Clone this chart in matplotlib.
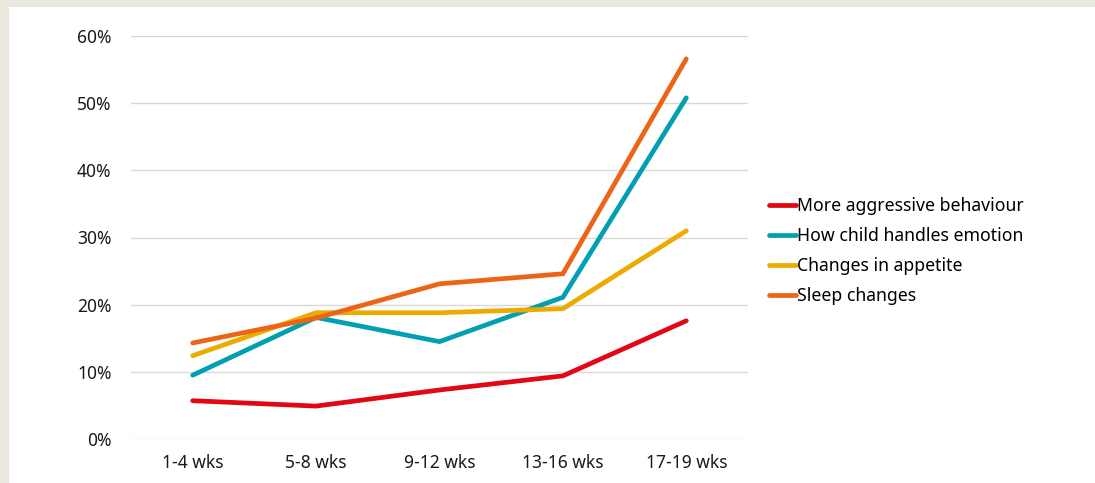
"""
Line chart: share of children with behaviour changes by weeks.
"""
import matplotlib.pyplot as plt
import matplotlib.patches as mpatches
import matplotlib.ticker as mticker
import numpy as np

categories = ["1-4 wks", "5-8 wks", "9-12 wks", "13-16 wks", "17-19 wks"]

aggressive = [5.7, 4.9, 7.3, 9.4, 17.6]
emotion    = [9.5, 18.1, 14.5, 21.1, 50.8]
appetite   = [12.4, 18.8, 18.8, 19.4, 31.0]
sleep      = [14.3, 18.0, 23.1, 24.6, 56.6]

SERIES = [
    ("More aggressive behaviour", aggressive, "#E30613"),
    ("How child handles emotion", emotion,    "#00A0B2"),
    ("Changes in appetite",       appetite,   "#EBAB00"),
    ("Sleep changes",             sleep,      "#EC6516"),
]

plt.rcParams["font.family"] = ["Noto Sans", "DejaVu Sans"]

fig = plt.figure(figsize=(10.95, 4.83), dpi=100)
fig.patch.set_facecolor("#EBE8E0")
# white card on the beige page
fig.patches.append(mpatches.Rectangle((9 / 1095, 0), 1, 1 - 7 / 483,
                                      transform=fig.transFigure,
                                      facecolor="white", edgecolor="none",
                                      zorder=-1))

ax = fig.add_axes([131 / 1095, 1 - 439 / 483, (748 - 131) / 1095, (439 - 36) / 483])
ax.set_zorder(2)
ax.set_facecolor("none")

x = np.arange(len(categories))
for label, vals, colour in SERIES:
    ax.plot(x, vals, color=colour, linewidth=3.4, label=label,
            solid_capstyle="round", solid_joinstyle="miter", zorder=3)

ax.set_xlim(-0.5, len(categories) - 0.5)
ax.set_ylim(0, 60)
ax.set_yticks(np.arange(0, 61, 10))
ax.yaxis.set_major_formatter(mticker.FormatStrFormatter("%.0f%%"))
ax.set_xticks(x)
ax.set_xticklabels(categories)
ax.tick_params(axis="both", length=0, labelsize=12.5, colors="#1a1a1a")
ax.tick_params(axis="y", pad=14)
ax.tick_params(axis="x", pad=11)
for s in ax.spines.values():
    s.set_visible(False)
ax.grid(axis="y", color="#D9D9D9", linewidth=1)
ax.set_axisbelow(True)

leg = fig.legend(loc="center left", bbox_to_anchor=(762 / 1095, 1 - 251 / 483),
                 frameon=False, fontsize=12.7, handlelength=1.5, handletextpad=0.1,
                 labelspacing=0.68, borderaxespad=0)
leg.set_zorder(3)

plt.savefig("out.png", dpi=100, facecolor=fig.get_facecolor())
